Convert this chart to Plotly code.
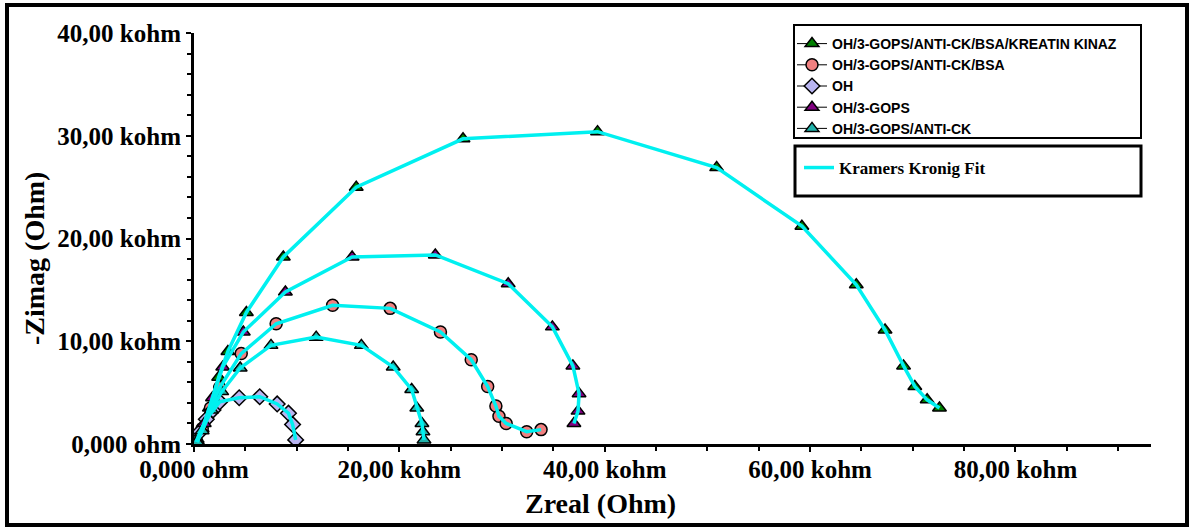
import plotly.graph_objects as go

# ---------------- data (kohm) ----------------
kk_x = [0.3, 0.8, 1.5, 2.4, 3.3, 5.1, 8.7, 15.8, 26.2, 39.3, 50.9, 59.2, 64.5, 67.3, 69.1, 70.2, 71.4, 72.6]
kk_y = [0.3, 1.5, 3.5, 6.5, 9.0, 12.8, 18.2, 25.0, 29.7, 30.4, 26.9, 21.2, 15.5, 11.1, 7.6, 5.6, 4.3, 3.5]

bsa_x = [0.3, 0.8, 1.6, 2.5, 4.6, 8.0, 13.5, 19.1, 24.0, 27.0, 28.6, 29.4, 29.7, 30.4, 32.4, 33.8]
bsa_y = [0.2, 1.5, 3.5, 5.5, 8.8, 11.7, 13.5, 13.2, 10.9, 8.2, 5.6, 3.7, 2.7, 2.0, 1.2, 1.4]

oh_x = [0.2, 0.6, 1.2, 1.85, 2.5, 4.4, 6.4, 8.1, 9.2, 9.6, 9.9]
oh_y = [0.2, 1.2, 2.4, 3.3, 4.1, 4.5, 4.6, 3.9, 3.0, 1.9, 0.4]

gops_x = [0.3, 1.0, 1.8, 2.8, 4.8, 8.9, 15.4, 23.5, 30.6, 34.9, 36.9, 37.5, 37.4, 37.0]
gops_y = [0.3, 2.0, 4.5, 7.5, 10.9, 14.8, 18.2, 18.4, 15.6, 11.4, 7.6, 4.9, 3.2, 2.0]

ck_x = [0.3, 0.8, 1.7, 2.7, 4.5, 7.5, 11.9, 16.3, 19.4, 21.2, 21.7, 22.2, 22.3, 22.4]
ck_y = [0.2, 1.3, 3.3, 5.1, 7.4, 9.6, 10.4, 9.6, 7.5, 5.3, 3.5, 2.0, 1.2, 0.4]

series_names = ["OH/3-GOPS/ANTI-CK/BSA/KREATIN KINAZ", "OH/3-GOPS/ANTI-CK/BSA", "OH",
                "OH/3-GOPS", "OH/3-GOPS/ANTI-CK"]
fit_name = "Kramers Kronig Fit"

x_tick_vals = [0, 20000, 40000, 60000, 80000]
x_tick_text = ["0,000 ohm", "20,00 kohm", "40,00 kohm", "60,00 kohm", "80,00 kohm"]
y_tick_vals = [0, 10000, 20000, 30000, 40000]
y_tick_text = ["0,000 ohm", "10,00 kohm", "20,00 kohm", "30,00 kohm", "40,00 kohm"]

# ---------------- layout geometry (pixels) ----------------
W, H = 1189, 527
L, R, T, B = 194, 1151, 33, 444
XMAX = 93200
YMAX = 40000


def px(x):
    return (x - L) / (R - L)


def py(y):
    return (B - y) / (B - T)


styles = [
    ("triangle-up", "#008000", 12),
    ("circle", "#f08080", 12),
    ("diamond", "#b8b4f0", 12),
    ("triangle-up", "#800080", 12),
    ("triangle-up", "#20b2aa", 12),
]
datasets = [(kk_x, kk_y), (bsa_x, bsa_y), (oh_x, oh_y), (gops_x, gops_y), (ck_x, ck_y)]

fig = go.Figure()
for name, (xs, ys), (sym, col, size) in zip(series_names, datasets, styles):
    fig.add_trace(go.Scatter(
        x=[v * 1000 for v in xs], y=[v * 1000 for v in ys],
        mode="lines+markers", name=name, legend="legend",
        line=dict(color="black", width=1),
        marker=dict(symbol=sym, color=col, size=size, line=dict(color="black", width=1.5)),
    ))

for i, (xs, ys) in enumerate(datasets):
    fig.add_trace(go.Scatter(
        x=[v * 1000 for v in xs], y=[v * 1000 for v in ys],
        mode="lines", name=fit_name, legend="legend2", legendgroup="kk",
        showlegend=(i == 0),
        line=dict(color="#00f0f0", width=3.5),
    ))

tickfont = dict(family="Liberation Serif", size=25, color="black", weight="bold")

fig.update_layout(
    template="none",
    width=W, height=H,
    margin=dict(l=L, r=W - R, t=T, b=H - B, pad=0),
    paper_bgcolor="white", plot_bgcolor="white",
    xaxis=dict(range=[0, XMAX], tickmode="array", tickvals=x_tick_vals, ticktext=x_tick_text,
               showgrid=False, zeroline=False, showline=True, linecolor="black", linewidth=3,
               ticks="outside", ticklen=5, tickwidth=2, tickcolor="black", tickfont=tickfont,
               automargin=False, ticklabelstandoff=-4,
               minor=dict(tickmode="linear", tick0=0, dtick=5000, ticks="outside", ticklen=4,
                          tickwidth=2, tickcolor="black", showgrid=False)),
    yaxis=dict(range=[0, YMAX], tickmode="array", tickvals=y_tick_vals, ticktext=y_tick_text,
               showgrid=False, zeroline=False, showline=True, linecolor="black", linewidth=3,
               ticks="outside", ticklen=5, tickwidth=2, tickcolor="black", tickfont=tickfont,
               automargin=False,
               minor=dict(tickmode="linear", tick0=0, dtick=2000, ticks="outside", ticklen=4,
                          tickwidth=2, tickcolor="black", showgrid=False)),
    showlegend=True,
    legend=dict(x=px(792), y=py(28), xanchor="left", yanchor="top",
                bgcolor="rgba(0,0,0,0)", borderwidth=0, tracegroupgap=0,
                font=dict(family="Liberation Sans", size=14, color="black", weight="bold")),
    legend2=dict(x=px(799), y=py(150), xanchor="left", yanchor="top",
                 bgcolor="rgba(0,0,0,0)", borderwidth=0,
                 font=dict(family="Liberation Serif", size=17, color="black", weight="bold")),
    shapes=[
        dict(type="rect", xref="paper", yref="paper", x0=px(794), x1=px(1141), y0=py(138), y1=py(25),
             line=dict(color="black", width=2), fillcolor="rgba(0,0,0,0)", layer="above"),
        dict(type="rect", xref="paper", yref="paper", x0=px(795), x1=px(1141), y0=py(196), y1=py(146),
             line=dict(color="black", width=3), fillcolor="rgba(0,0,0,0)", layer="above"),
        dict(type="rect", xref="paper", yref="paper", x0=px(7), x1=px(1187), y0=py(525), y1=py(5),
             line=dict(color="black", width=4), fillcolor="rgba(0,0,0,0)", layer="above"),
    ],
    annotations=[
        dict(text="Zreal (Ohm)", xref="paper", yref="paper", x=px(600), y=py(503),
             xanchor="center", yanchor="middle", showarrow=False,
             font=dict(family="Liberation Serif", size=28, color="black", weight="bold")),
        dict(text="-Zimag (Ohm)", xref="paper", yref="paper", x=px(34), y=py(259),
             xanchor="center", yanchor="middle", showarrow=False, textangle=-90,
             font=dict(family="Liberation Serif", size=28, color="black", weight="bold")),
    ],
)

fig.write_html("out.html", config={"displayModeBar": False},
               post_script="document.body.style.margin='0';document.body.style.overflow='hidden';")
